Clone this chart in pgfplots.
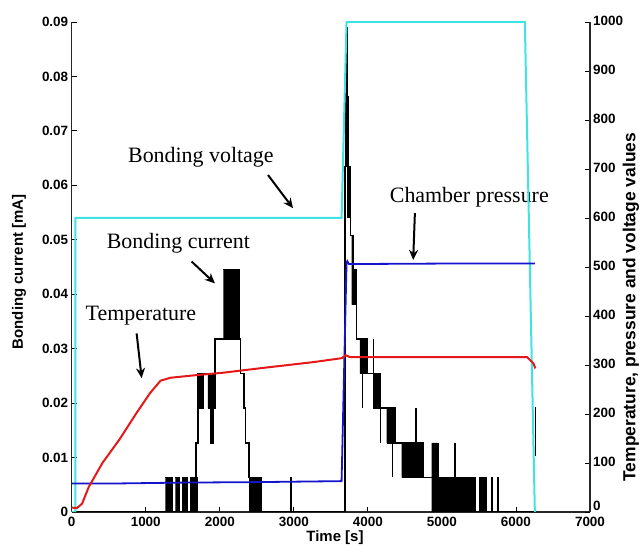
\documentclass[border=0pt]{standalone}
\usepackage{fontspec}
\setmainfont{Liberation Serif}
\setsansfont{Liberation Sans}
\usepackage{pgfplots}
\usepackage{pgfplotstable}
\pgfplotsset{compat=1.18}
\usetikzlibrary{arrows.meta}

\definecolor{cyanv}{RGB}{64,226,226}
\definecolor{bluep}{RGB}{20,20,205}
\definecolor{redt}{RGB}{228,24,24}

% bonding current outline (left axis, mA)
\pgfplotstableread{
t I
0 0
1680 0
1680 0.0127
1705 0.0127
1705 0.0254
1935 0.0254
1935 0.0318
2281 0.0318
2281 0.0254
2327 0.0254
2327 0.0191
2350 0.0191
2350 0.0127
2396 0.0127
2396 0.00635
2555 0.00635
2555 0
2960 0
2960 0.00635
2972 0.00635
2972 0
3690 0
3690 0.0635
3705 0.0635
3705 0.0826
3714 0.0826
3714 0.0889
3722 0.0889
3722 0.0762
3730 0.0762
3730 0.0635
3766 0.0635
3766 0.0508
3805 0.0508
3805 0.0445
3850 0.0445
3850 0.0318
3991 0.0318
3991 0.0254
4162 0.0254
4162 0.0191
4365 0.0191
4365 0.0127
4747 0.0127
4747 0.00635
5445 0.00635
5445 0
5513 0
5513 0.00635
5603 0.00635
5603 0
5668 0
5668 0.00635
5674 0.00635
5674 0
5758 0
5758 0.00635
5764 0.00635
5764 0
6262 0
nan nan
3925 0.0254
3925 0.0191
nan nan
4075 0.0318
4075 0.0191
nan nan
4170 0.0191
4170 0.0127
nan nan
4330 0.0127
4330 0.00635
nan nan
4648 0.0127
4648 0.0191
nan nan
5175 0.00635
5175 0.0127
nan nan
6262 0.0102
6262 0.0193
}\currentline

% rapidly toggling stretches of the current (filled)
\pgfplotstableread{
t I
1265 0
1355 0
1355 0.00635
1265 0.00635
nan nan
1400 0
1450 0
1450 0.00635
1400 0.00635
nan nan
1490 0
1565 0
1565 0.00635
1490 0.00635
nan nan
1600 0
1700 0
1700 0.00635
1600 0.00635
nan nan
1710 0.0191
1775 0.0191
1775 0.0254
1710 0.0254
nan nan
1840 0.0191
1935 0.0191
1935 0.0254
1840 0.0254
nan nan
1870 0.0127
1915 0.0127
1915 0.0191
1870 0.0191
nan nan
2050 0.0318
2258 0.0318
2258 0.0445
2050 0.0445
nan nan
2396 0
2555 0
2555 0.00635
2396 0.00635
nan nan
3720 0.0542
3766 0.0542
3766 0.0635
3720 0.0635
nan nan
3716 0.0635
3728 0.0635
3728 0.0800
3716 0.0800
nan nan
3780 0.0381
3805 0.0381
3805 0.0508
3780 0.0508
nan nan
3805 0.0381
3830 0.0381
3830 0.0445
3805 0.0445
nan nan
3892 0.0254
3991 0.0254
3991 0.0318
3892 0.0318
nan nan
4072 0.0191
4162 0.0191
4162 0.0254
4072 0.0254
nan nan
4252 0.0127
4365 0.0127
4365 0.0191
4252 0.0191
nan nan
4455 0.00635
4747 0.00635
4747 0.0127
4455 0.0127
nan nan
4860 0
4945 0
4945 0.0127
4860 0.0127
nan nan
4945 0
5445 0
5445 0.00635
4945 0.00635
nan nan
5513 0
5603 0
5603 0.00635
5513 0.00635
}\currentblocks

% right axis series
\pgfplotstableread{
t V
0 0
50 0
50 600
3645 600
3712 1000
6120 1000
6255 0
}\voltage

\pgfplotstableread{
t P
0 58
500 58
1500 60
2500 61
3645 63
3712 508
3722 512
3745 506
5000 507
6255 507
}\pressure

\pgfplotstableread{
t T
0 9
70 8
140 17
230 51
415 100
645 148
875 202
1060 243
1200 268
1336 274
1660 279
2030 284
2580 294
3270 306
3650 314
3700 320
3760 316
6150 316
6237 303
6262 293
}\temperature

\pgfplotsset{
  common/.style={
    at={(0,0)}, anchor=south west,
    width=518.3bp, height=490bp, scale only axis,
    xmin=0, xmax=7000,
    tick align=inside, major tick length=5bp,
    every tick/.style={black, line width=0.9bp},
    axis line style={black!85, line width=1.1bp},
    /pgf/number format/assume math mode=true,
    /pgf/number format/set thousands separator={},
    ticklabel style={font=\sffamily\bfseries\fontsize{13.5}{14}\selectfont},
  }
}

\begin{document}
\begin{tikzpicture}
\useasboundingbox (-71.7bp,-34bp) rectangle (568.3bp,512bp);

\begin{axis}[common,
  ymin=0, ymax=0.09,
  axis x line*=bottom, axis y line*=left,
  xtick={0,1000,2000,3000,4000,5000,6000,7000},
  ytick={0,0.01,0.02,0.03,0.04,0.05,0.06,0.07,0.08,0.09},
  scaled y ticks=false,
  yticklabel style={/pgf/number format/fixed, /pgf/number format/precision=2},
  xticklabel style={yshift=-3bp, inner sep=1.5bp},
  xlabel={Time [s]}, ylabel={Bonding current [mA]},
  xlabel style={font=\sffamily\bfseries\fontsize{15}{16}\selectfont, at={(axis description cs:0.508,-0.053)}, anchor=center},
  ylabel style={font=\sffamily\bfseries\fontsize{15}{16}\selectfont, at={(axis description cs:-0.1017,0.49)}, anchor=center},
]
\addplot[black, line width=1.4bp, unbounded coords=jump] table[x=t, y=I] {\currentline};
\addplot[black, fill=black, line width=0.6bp, unbounded coords=jump] table[x=t, y=I] {\currentblocks};

\node[font=\fontsize{22}{23}\selectfont] at (axis cs:1745,0.0652) {Bonding voltage};
\node[font=\fontsize{22}{23}\selectfont] at (axis cs:5370,0.0579) {Chamber pressure};
\node[font=\fontsize{22}{23}\selectfont] at (axis cs:1440,0.0494) {Bonding current};
\node[font=\fontsize{22}{23}\selectfont] at (axis cs:935,0.0360) {Temperature};
\draw[line width=2bp, -{Stealth[length=10bp,width=9bp]}] (axis cs:2651,0.0619) -- (axis cs:2989,0.0558);
\draw[line width=2bp, -{Stealth[length=10bp,width=9bp]}] (axis cs:4635,0.0549) -- (axis cs:4612,0.0463);
\draw[line width=2bp, -{Stealth[length=10bp,width=9bp]}] (axis cs:1620,0.0460) -- (axis cs:1934,0.0420);
\draw[line width=2bp, -{Stealth[length=10bp,width=9bp]}] (axis cs:877,0.0328) -- (axis cs:945,0.0246);
\end{axis}

\begin{axis}[common,
  ymin=0, ymax=1000,
  axis x line=none, axis y line*=right,
  ytick={100,200,300,400,500,600,700,800,900,1000},
  extra y ticks={0},
  extra y tick style={yticklabel style={yshift=4.5bp}},
  yticklabel style={yshift=1.5bp, inner sep=1.5bp, xshift=1.5bp},
  ylabel={Temperature, pressure and voltage values},
  ylabel style={font=\sffamily\bfseries\fontsize{17.5}{18}\selectfont, inner sep=1bp, at={(axis description cs:1.0787,0.418)}, anchor=center},
]
\addplot[cyanv, line width=2bp] table[x=t, y=V] {\voltage};
\addplot[bluep, line width=1.8bp] table[x=t, y=P] {\pressure};
\addplot[redt, line width=2bp] table[x=t, y=T] {\temperature};
\end{axis}
\end{tikzpicture}
\end{document}
